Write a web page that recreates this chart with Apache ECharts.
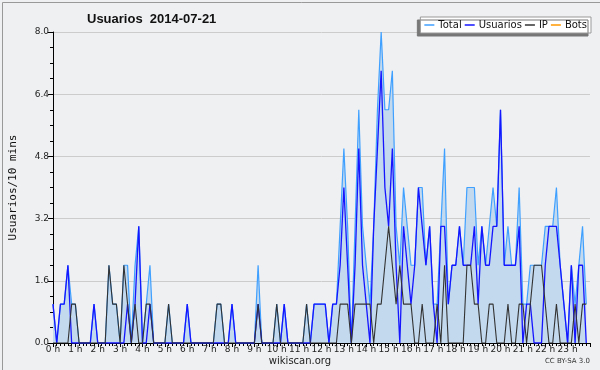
<!DOCTYPE html>
<html><head><meta charset="utf-8">
<script src="https://cdn.jsdelivr.net/npm/echarts@6/dist/echarts.min.js"></script>
<style>html,body{margin:0;padding:0;background:#eff0f2}#c{width:600px;height:370px}</style>
</head><body><div id="c"></div>
<script>
const hourLabels = ['0 h','1 h','2 h','3 h','4 h','5 h','6 h','7 h','8 h','9 h','10 h','11 h','12 h','13 h','14 h','15 h','16 h','17 h','18 h','19 h','20 h','21 h','22 h','23 h'];
const yTicks = [0, 1.6, 3.2, 4.8, 6.4, 8.0];
// 144 slots of 10 minutes
const total = [
1,0,1,1,2,1, 1,0,0,0,0,1, 0,0,0,2,1,1, 0,2,2,0,2,3,
0,1,2,0,0,0, 0,1,0,0,0,0, 1,0,0,0,0,0, 0,0,1,1,0,0,
1,0,0,0,0,0, 0,2,0,0,0,0, 1,0,1,0,0,0, 0,0,1,0,1,1,
1,1,0,1,1,3, 5,3,0,3,6,3, 2,1,3,6,8,6, 6,7,3,2,4,3,
2,2,4,4,2,3, 1,1,3,5,1,2, 2,3,2,4,4,4, 2,3,2,3,4,3,
6,2,3,2,2,4, 1,1,2,2,2,2, 3,3,3,4,2,1, 0,2,1,2,3,1
];
const usuarios = [
1,0,1,1,2,0, 0,0,0,0,0,1, 0,0,0,0,0,0, 0,0,1,0,1,3,
0,0,1,0,0,0, 0,0,0,0,0,0, 1,0,0,0,0,0, 0,0,0,0,0,0,
1,0,0,0,0,0, 0,1,0,0,0,0, 0,0,1,0,0,0, 0,0,0,0,1,1,
1,1,0,1,1,2, 4,2,0,2,5,2, 1,0,3,5,7,4, 3,5,2,0,3,2,
1,2,4,3,2,3, 1,0,3,3,1,2, 2,3,2,2,2,3, 1,3,2,2,3,3,
6,2,2,2,2,3, 0,1,1,0,0,0, 2,3,3,3,2,1, 0,2,0,2,2,0
];
const ip = [
0,0,0,0,0,1, 1,0,0,0,0,0, 0,0,0,2,1,1, 0,2,1,0,1,0,
0,1,1,0,0,0, 0,1,0,0,0,0, 0,0,0,0,0,0, 0,0,1,1,0,0,
0,0,0,0,0,0, 0,1,0,0,0,0, 1,0,0,0,0,0, 0,0,1,0,0,0,
0,0,0,0,0,1, 1,1,0,1,1,1, 1,1,0,1,1,2, 3,2,1,2,1,1,
1,0,0,1,0,0, 0,1,0,2,0,0, 0,0,0,2,2,1, 1,0,0,1,1,0,
0,0,1,0,0,1, 1,0,1,2,2,2, 1,0,0,1,0,0, 0,0,1,0,1,1
];
const bots = new Array(144).fill(0);

const pts = arr => arr.map((v, i) => [i, v]);
const chart = echarts.init(document.getElementById('c'), null, {renderer: 'canvas'});
const font = 'DejaVu Sans';
chart.setOption({
  backgroundColor: '#eff0f2',
  animation: false,
  title: {
    text: 'Usuarios  2014-07-21', left: 82, top: 8,
    textStyle: {fontFamily: 'Liberation Sans', fontWeight: 'bold', fontSize: 13, color: '#111'}
  },
  legend: {
    right: 9, top: 17, padding: [3, 4, 3, 4],
    backgroundColor: '#fff', borderColor: '#999', borderWidth: 1,
    shadowColor: '#777', shadowOffsetX: -3, shadowOffsetY: 3, shadowBlur: 0,
    icon: 'rect', itemWidth: 10, itemHeight: 1.5, itemGap: 3,
    textStyle: {fontFamily: font, fontSize: 10, color: '#111', padding: [0, 0, 0, -1]},
    data: ['Total', 'Usuarios', 'IP', 'Bots']
  },
  grid: {left: 46, right: 10, top: 32, bottom: 27},
  xAxis: {
    type: 'value', min: 0, max: 144, interval: 6, z: 1,
    axisLine: {lineStyle: {color: '#000', width: 1}},
    axisTick: {show: true, length: 4, lineStyle: {color: '#000'}},
    minorTick: {show: true, splitNumber: 6, length: 3, lineStyle: {color: '#000'}},
    splitLine: {show: false},
    axisLabel: {
      showMaxLabel: false, margin: 2,
      fontFamily: font, fontSize: 9, color: '#222',
      formatter: v => hourLabels[v / 6] || ''
    }
  },
  yAxis: {
    type: 'value', min: yTicks[0], max: yTicks[yTicks.length - 1], interval: 1.6,
    name: 'Usuarios/10 mins', nameLocation: 'middle', nameGap: 34, nameRotate: 90,
    nameTextStyle: {fontFamily: 'DejaVu Sans Mono', fontSize: 11, color: '#111'},
    axisLine: {show: true, lineStyle: {color: '#000', width: 1}},
    axisTick: {show: true, length: 5, lineStyle: {color: '#000'}},
    minorTick: {show: true, splitNumber: 4, length: 3, lineStyle: {color: '#000'}},
    splitLine: {show: true, lineStyle: {color: '#ccc', width: 1}},
    axisLabel: {fontFamily: font, fontSize: 9, color: '#222', margin: 4,
      formatter: v => v.toFixed(1)}
  },
  series: [
    {name: 'Bots', type: 'line', data: pts(bots), symbol: 'none', z: 0,
     lineStyle: {color: '#ff9900', width: 1.2}, itemStyle: {color: '#ff9900'}},
    {name: 'Total', type: 'line', data: pts(total), symbol: 'none', z: 2,
     lineStyle: {color: '#3fa0ff', width: 1.2}, itemStyle: {color: '#3fa0ff'},
     areaStyle: {color: '#c3d9ee', opacity: 1}},
    {name: 'Usuarios', type: 'line', data: pts(usuarios), symbol: 'none', z: 3,
     lineStyle: {color: '#1515ff', width: 1.3}, itemStyle: {color: '#1515ff'}},
    {name: 'IP', type: 'line', data: pts(ip), symbol: 'none', z: 4,
     lineStyle: {color: '#333', width: 1.1}, itemStyle: {color: '#333'}}
  ],
  graphic: [
    {type: 'rect', left: 0, top: 0, z: 100, silent: true,
     shape: {width: 599, height: 369},
     style: {fill: 'none', stroke: '#999', lineWidth: 1}},
    {type: 'text', left: 'center', top: 356,
     style: {text: 'wikiscan.org', font: '10px "DejaVu Sans"', fill: '#222'}},
    {type: 'text', right: 10, top: 358,
     style: {text: 'CC BY-SA 3.0', font: '7px "DejaVu Sans"', fill: '#333'}}
  ]
});
</script></body></html>
